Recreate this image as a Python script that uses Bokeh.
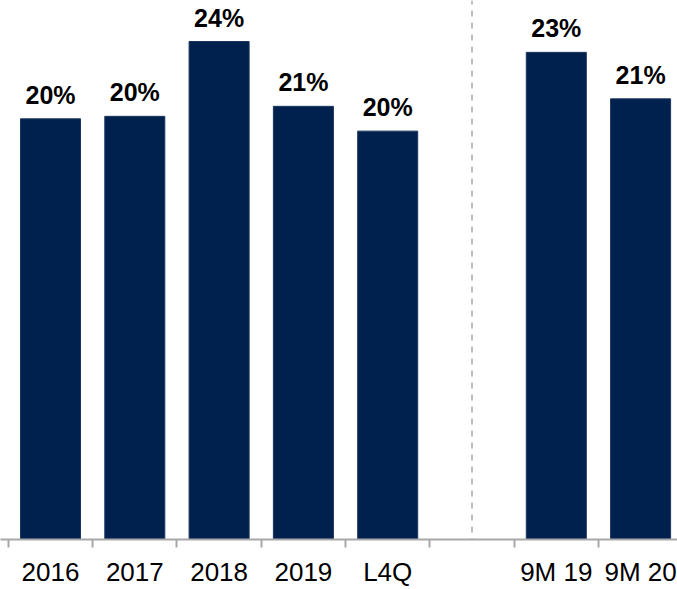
from bokeh.plotting import figure
from bokeh.models import Range1d, FixedTicker, Span, ColumnDataSource
from bokeh.core.properties import value
from bokeh.embed import file_html
from bokeh.resources import INLINE

# Data
categories = ["2016", "2017", "2018", "2019", "L4Q", "", "9M 19", "9M 20"]
values = [20.18, 20.30, 23.89, 20.78, 19.59, None, 23.37, 21.14]
labels = ["20%", "20%", "24%", "21%", "20%", "", "23%", "21%"]

centers = [i + 0.5 for i in range(len(categories))]
bar_x = [c for c, v in zip(centers, values) if v is not None]
bar_top = [v for v in values if v is not None]
bar_lab = [l for l, v in zip(labels, values) if v is not None]
gap_x = centers[categories.index("")]

W, H = 677, 589
STANDOFF = 9
frame_h = 543
px_per_unit_y = 21.0
px_per_unit_x = 84.3
x0 = 7.85

p = figure(width=W, height=H, output_backend="svg", toolbar_location=None,
           y_axis_location=None, min_border=0, min_border_left=0,
           min_border_right=0, min_border_top=0, min_border_bottom=0,
           x_range=Range1d(-x0 / px_per_unit_x, (W - x0) / px_per_unit_x),
           y_range=Range1d(0, frame_h / px_per_unit_y))
p.outline_line_color = None
p.xgrid.visible = False
p.ygrid.visible = False
p.background_fill_color = "white"
p.border_fill_color = "white"

src = ColumnDataSource(dict(x=bar_x, top=bar_top, lab=bar_lab))
p.vbar(x="x", top="top", bottom=0, width=0.712, source=src,
       fill_color="#00204e", line_color="#1c355e", line_width=1)

p.text(x="x", y="top", text="lab", source=src, text_align="center",
       text_baseline="alphabetic", y_offset=-24,
       text_font=value("Liberation Sans"), text_font_style="bold",
       text_font_size="25px", text_color="#000000")

p.add_layout(Span(location=gap_x, dimension="height", line_color="#aea7a2",
                  line_width=1.5, line_dash="6 6", line_dash_offset=-10))

ax = p.xaxis[0]
ax.ticker = FixedTicker(ticks=centers, minor_ticks=list(range(len(categories))))
ax.major_label_overrides = {c: lab for c, lab in zip(centers, categories)}
ax.major_tick_in = 0
ax.major_tick_out = 0
ax.major_tick_line_color = None
ax.minor_tick_in = 0
ax.minor_tick_out = 8
ax.minor_tick_line_color = "#a8a8a8"
ax.minor_tick_line_width = 2
ax.axis_line_color = "#a8a8a8"
ax.axis_line_width = 2
ax.major_label_standoff = STANDOFF
ax.major_label_text_font = "Liberation Sans"
ax.major_label_text_font_size = "26px"
ax.major_label_text_line_height = 0.6
ax.major_label_text_color = "#000000"

open("out.html", "w").write(file_html(p, INLINE))
